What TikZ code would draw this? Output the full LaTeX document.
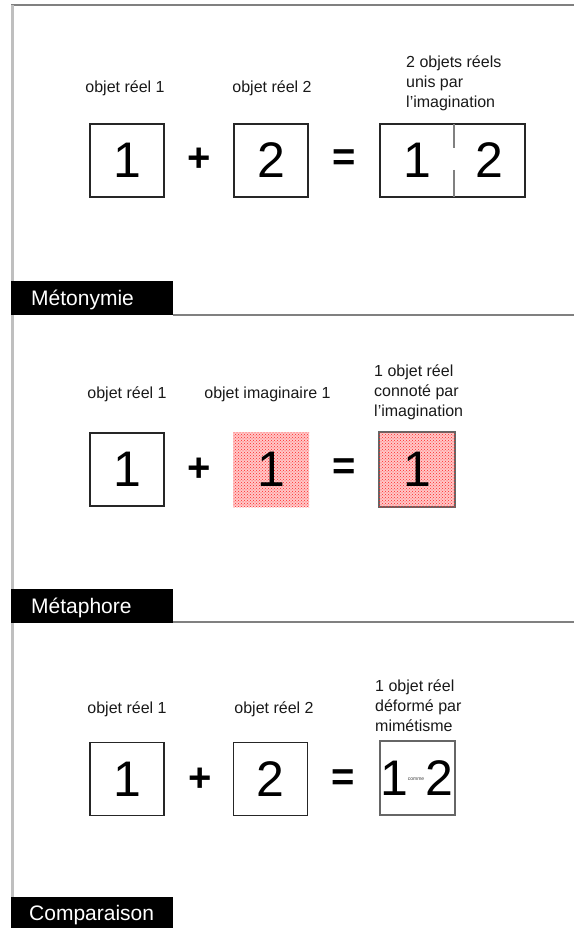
\documentclass[tikz,border=0pt]{standalone}
\usepackage{fontspec}
\setmainfont{Liberation Sans}
\usetikzlibrary{patterns}
\begin{document}
\begin{tikzpicture}[x=1pt,y=-1pt,
  lbl/.style={font=\fontsize{16}{20}\selectfont, inner sep=0, anchor=base, text=black!90},
  rlbl/.style={font=\fontsize{16}{20}\selectfont, inner sep=0, anchor=base west, text=black!90},
  dig/.style={font=\fontsize{50}{50}\selectfont, inner sep=0},
  op/.style={font=\fontsize{40}{40}\selectfont\bfseries, inner sep=0},
  obox/.style={draw=black!85, line width=1.8pt, minimum width=74pt, minimum height=73pt, inner sep=0, dig},
  rbox/.style={draw=black!85, line width=1.8pt, minimum width=145pt, minimum height=73pt, inner sep=0},
  imag/.style={fill=red!22, postaction={pattern=crosshatch dots, pattern color=red!85}, minimum width=76pt, minimum height=75pt, inner sep=0},
  blackbar/.style={fill=black, minimum width=162pt, minimum height=34pt, anchor=north west, inner sep=0},
  bartxt/.style={font=\fontsize{21}{21}\selectfont, text=white, anchor=base west, inner sep=0},
  sepline/.style={draw=black!50, line width=2pt},
  divline/.style={draw=black!50, line width=2pt}
]
\useasboundingbox (0,0) rectangle (574,928);
% frame lines
\draw[sepline] (11,5) -- (574,5);
\draw[draw=black!25, line width=3pt] (12,5) -- (12,928);
\draw[sepline] (173,315) -- (574,315);
\draw[sepline] (173,622) -- (574,622);

% ---------- Section 1 : Metonymie ----------
\node[lbl] (l11) at (125,93) {objet réel 1};
\node[lbl] (l12) at (272,93) {objet réel 2};
\node[rlbl] (r1a) at (406,68) {2 objets réels};
\node[rlbl] (r1b) at (406,88) {unis par};
\node[rlbl] (r1c) at (406,108) {l'imagination};
\node[obox] (b11) at (127,160.5) {1};
\node[op] (p1) at (199,160) {+};
\node[obox] (b12) at (271,160.5) {2};
\node[op] (e1) at (344,160) {=};
\node[rbox] (b13) at (452.5,160.5) {};
\draw[divline] (454,124) -- (454,148);
\draw[divline] (454,170) -- (454,197);
\node[dig] (d131) at (417,160.5) {1};
\node[dig] (d132) at (489,160.5) {2};
\node[blackbar] (bar1) at (11,281) {};
\node[bartxt] (t1) at (31,305.5) {Métonymie};

% ---------- Section 2 : Metaphore ----------
\node[lbl] (l21) at (127,398) {objet réel 1};
\node[lbl] (l22) at (267.5,398) {objet imaginaire 1};
\node[rlbl] (r2a) at (374,376) {1 objet réel};
\node[rlbl] (r2b) at (374,396) {connoté par};
\node[rlbl] (r2c) at (374,416) {l'imagination};
\node[obox] (b21) at (127,469.5) {1};
\node[op] (p2) at (199,470) {+};
\node[imag] (b22) at (271,469.5) {};
\node[dig] (d22) at (271,469.5) {1};
\node[op] (e2) at (344,469) {=};
\node[imag, draw=black!60, line width=2pt] (b23) at (417,469.5) {};
\node[dig] (d23) at (417,469.5) {1};
\node[blackbar] (bar2) at (11,589) {};
\node[bartxt] (t2) at (31,613.5) {Métaphore};

% ---------- Section 3 : Comparaison ----------
\node[lbl] (l31) at (127,713) {objet réel 1};
\node[lbl] (l32) at (274,713) {objet réel 2};
\node[rlbl] (r3a) at (375,691) {1 objet réel};
\node[rlbl] (r3b) at (375,711) {déformé par};
\node[rlbl] (r3c) at (375,731) {mimétisme};
\node[obox] (b31) at (127,779) {1};
\node[op] (p3) at (200,780) {+};
\node[obox] (b32) at (270.5,779) {2};
\node[op] (e3) at (343,780) {=};
\node[draw=black!60, line width=2.2pt, minimum width=75pt, minimum height=74pt, inner sep=0] (b33) at (417.5,778) {};
\node[dig] (d33) at (416.5,778) {1\raisebox{15pt}{\fontsize{5}{5}\selectfont\color{black!75}comme}\kern1pt 2};
\node[blackbar] (bar3) at (11,897) {};
\node[bartxt] (t3) at (29,920) {Comparaison};
\end{tikzpicture}
\end{document}
